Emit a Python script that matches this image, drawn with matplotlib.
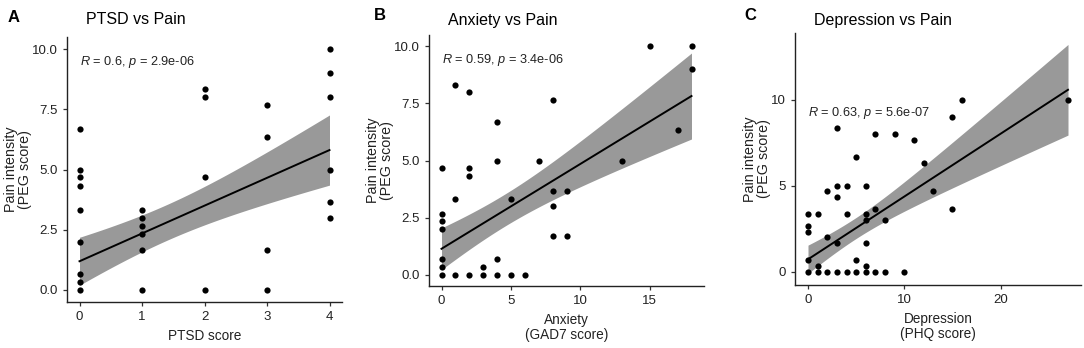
import numpy as np
import matplotlib
matplotlib.use("Agg")
import matplotlib.pyplot as plt

plt.rcParams['font.family'] = ['Liberation Sans', 'DejaVu Sans']
plt.rcParams['mathtext.fontset'] = 'custom'
plt.rcParams['mathtext.rm'] = 'Liberation Sans'
plt.rcParams['mathtext.it'] = 'Liberation Sans:italic'

# PTSD vs pain (n = how many participants sit on the same point)
ptsd_x = [0, 0, 0, 0, 0, 0, 0, 0, 0,
          1, 1, 1, 1, 1, 1,
          2, 2, 2, 2,
          3, 3, 3, 3,
          4, 4, 4, 4, 4, 4]
ptsd_y = [6.67, 5.0, 4.67, 4.33, 3.33, 2.0, 0.67, 0.33, 0.0,
          3.33, 3.0, 2.67, 2.33, 1.67, 0.0,
          8.33, 8.0, 4.67, 0.0,
          7.67, 6.33, 1.67, 0.0,
          10.0, 9.0, 8.0, 5.0, 3.67, 3.0]
ptsd_n = [1, 1, 1, 1, 1, 1, 1, 1, 14,
          1, 1, 1, 1, 1, 1,
          1, 1, 1, 3,
          2, 1, 1, 1,
          1, 1, 1, 2, 1, 2]

# Anxiety (GAD7) vs pain
anx_x = [0, 0, 0, 0, 0, 0, 0, 1, 1, 1, 2, 2, 2, 2, 3, 3, 4, 4, 4, 4,
         5, 5, 6, 7, 8, 8, 8, 8, 9, 9, 13, 15, 17, 18, 18]
anx_y = [4.67, 2.67, 2.33, 2.0, 0.67, 0.33, 0.0, 8.33, 3.33, 0.0,
         8.0, 4.67, 4.33, 0.0, 0.33, 0.0, 6.67, 5.0, 0.67, 0.0,
         3.33, 0.0, 0.0, 5.0, 7.67, 3.67, 3.0, 1.67, 3.67, 1.67,
         5.0, 10.0, 6.33, 10.0, 9.0]
anx_n = [1, 1, 1, 1, 1, 1, 11, 1, 1, 1, 1, 1, 1, 1, 1, 1, 1, 1, 1, 1,
         1, 1, 1, 1, 1, 1, 1, 2, 1, 1, 1, 1, 2, 1, 1]

# Depression (PHQ) vs pain
dep_x = [0, 0, 0, 0, 0, 1, 1, 1, 2, 2, 2, 3, 3, 3, 3, 3, 4, 4, 4,
         5, 5, 5, 6, 6, 6, 6, 6, 6, 7, 7, 7, 8, 8, 9, 10, 11, 12, 13,
         15, 15, 16, 27]
dep_y = [3.33, 2.67, 2.33, 0.67, 0.0, 3.33, 0.33, 0.0, 4.67, 2.0, 0.0,
         8.33, 5.0, 4.33, 1.67, 0.0, 5.0, 3.33, 0.0, 6.67, 0.67, 0.0,
         5.0, 3.33, 3.0, 1.67, 0.33, 0.0, 8.0, 3.67, 0.0, 3.0, 0.0,
         8.0, 0.0, 7.67, 6.33, 4.67, 9.0, 3.67, 10.0, 10.0]
dep_n = [1, 1, 1, 1, 11, 1, 1, 3, 1, 1, 3, 1, 1, 1, 1, 2, 1, 1, 1,
         1, 1, 1, 1, 1, 1, 1, 1, 1, 1, 1, 1, 1, 1, 1, 2, 1, 1, 2,
         1, 1, 1, 1]

titles = ['PTSD vs Pain', 'Anxiety vs Pain', 'Depression vs Pain']
xlabels = ['PTSD score', 'Anxiety\n(GAD7 score)', 'Depression\n(PHQ score)']
cor_labels = [r'$R$ = 0.6, $p$ = 2.9e-06',
              r'$R$ = 0.59, $p$ = 3.4e-06',
              r'$R$ = 0.63, $p$ = 5.6e-07']
yticks = [[0, 2.5, 5, 7.5, 10], [0, 2.5, 5, 7.5, 10], [0, 5, 10]]
xticks = [[0, 1, 2, 3, 4], [0, 5, 10, 15], [0, 10, 20]]


def t975(df):
    # Cornish-Fisher approximation of the t quantile (no scipy here)
    z = 1.959964
    return z + (z**3 + z) / (4 * df) + (5 * z**5 + 16 * z**3 + 3 * z) / (96 * df**2)


def lm_band(x, y, n):
    x = np.repeat(np.asarray(x, float), n)
    y = np.repeat(np.asarray(y, float), n)
    slope, icpt = np.polyfit(x, y, 1)
    res = y - (icpt + slope * x)
    s = np.sqrt(np.sum(res**2) / (len(x) - 2))
    xbar = x.mean()
    sxx = np.sum((x - xbar)**2)
    xs = np.linspace(x.min(), x.max(), 80)
    fit = icpt + slope * xs
    se = s * np.sqrt(1 / len(x) + (xs - xbar)**2 / sxx)
    t = t975(len(x) - 2)
    return xs, fit, fit - t * se, fit + t * se


W, H = 1084, 348
fig = plt.figure(figsize=(W / 100, H / 100), dpi=100)

# axes boxes in pixels: left, right, top, bottom
boxes = [(67, 342, 37, 302), (429, 704, 35, 286), (795, 1081, 33, 285)]
datasets = [(ptsd_x, ptsd_y, ptsd_n), (anx_x, anx_y, anx_n), (dep_x, dep_y, dep_n)]

for i, ((x, y, n), (l, r, t, b)) in enumerate(zip(datasets, boxes)):
    ax = fig.add_axes([l / W, 1 - b / H, (r - l) / W, (b - t) / H])
    xs, fit, lo, hi = lm_band(x, y, n)
    ax.fill_between(xs, lo, hi, color='#999999', lw=0, zorder=1)
    ax.plot(xs, fit, color='black', lw=1.4, zorder=2)
    ax.scatter(x, y, s=20, color='black', lw=0, zorder=3)

    xmin, xmax = min(x), max(x)
    pad = 0.05 * (xmax - xmin)
    ax.set_xlim(xmin - pad, xmax + pad)
    ymin, ymax = min(min(y), lo.min()), max(max(y), hi.max())
    pad = 0.05 * (ymax - ymin)
    ax.set_ylim(ymin - pad, ymax + pad)

    ax.set_xticks(xticks[i])
    ax.set_yticks(yticks[i])
    if i < 2:
        ax.set_yticklabels(['%.1f' % v for v in yticks[i]])
    for sp in ['top', 'right']:
        ax.spines[sp].set_visible(False)
    for sp in ['left', 'bottom']:
        ax.spines[sp].set_linewidth(1.0)
        ax.spines[sp].set_color('#222222')
    ax.tick_params(length=3, width=0.9, color='#333333', labelsize=9.5,
                   labelcolor='#222222', pad=3.5)
    ax.set_xlabel(xlabels[i], fontsize=9.8, color='#222222', labelpad=4,
                  linespacing=1.1)
    ax.set_ylabel('Pain intensity\n(PEG score)', fontsize=10.3,
                  color='#222222', labelpad=0, linespacing=1.05)

    ax.annotate(cor_labels[i], xy=(xmin, max(y)), xytext=(0, -9.5),
                textcoords='offset points', va='center', ha='left',
                fontsize=9.2, color='#222222')

    fig.text((l + 19) / W, 1 - 20 / H, titles[i], fontsize=11.5,
             va='center', ha='left', color='black')

fig.text(8 / W, 1 - 17 / H, 'A', fontsize=12, fontweight='bold', va='center')
fig.text(374 / W, 1 - 15 / H, 'B', fontsize=12, fontweight='bold', va='center')
fig.text(744 / W, 1 - 16 / H, 'C', fontsize=12, fontweight='bold', va='center')

fig.savefig('out.png', dpi=100)
